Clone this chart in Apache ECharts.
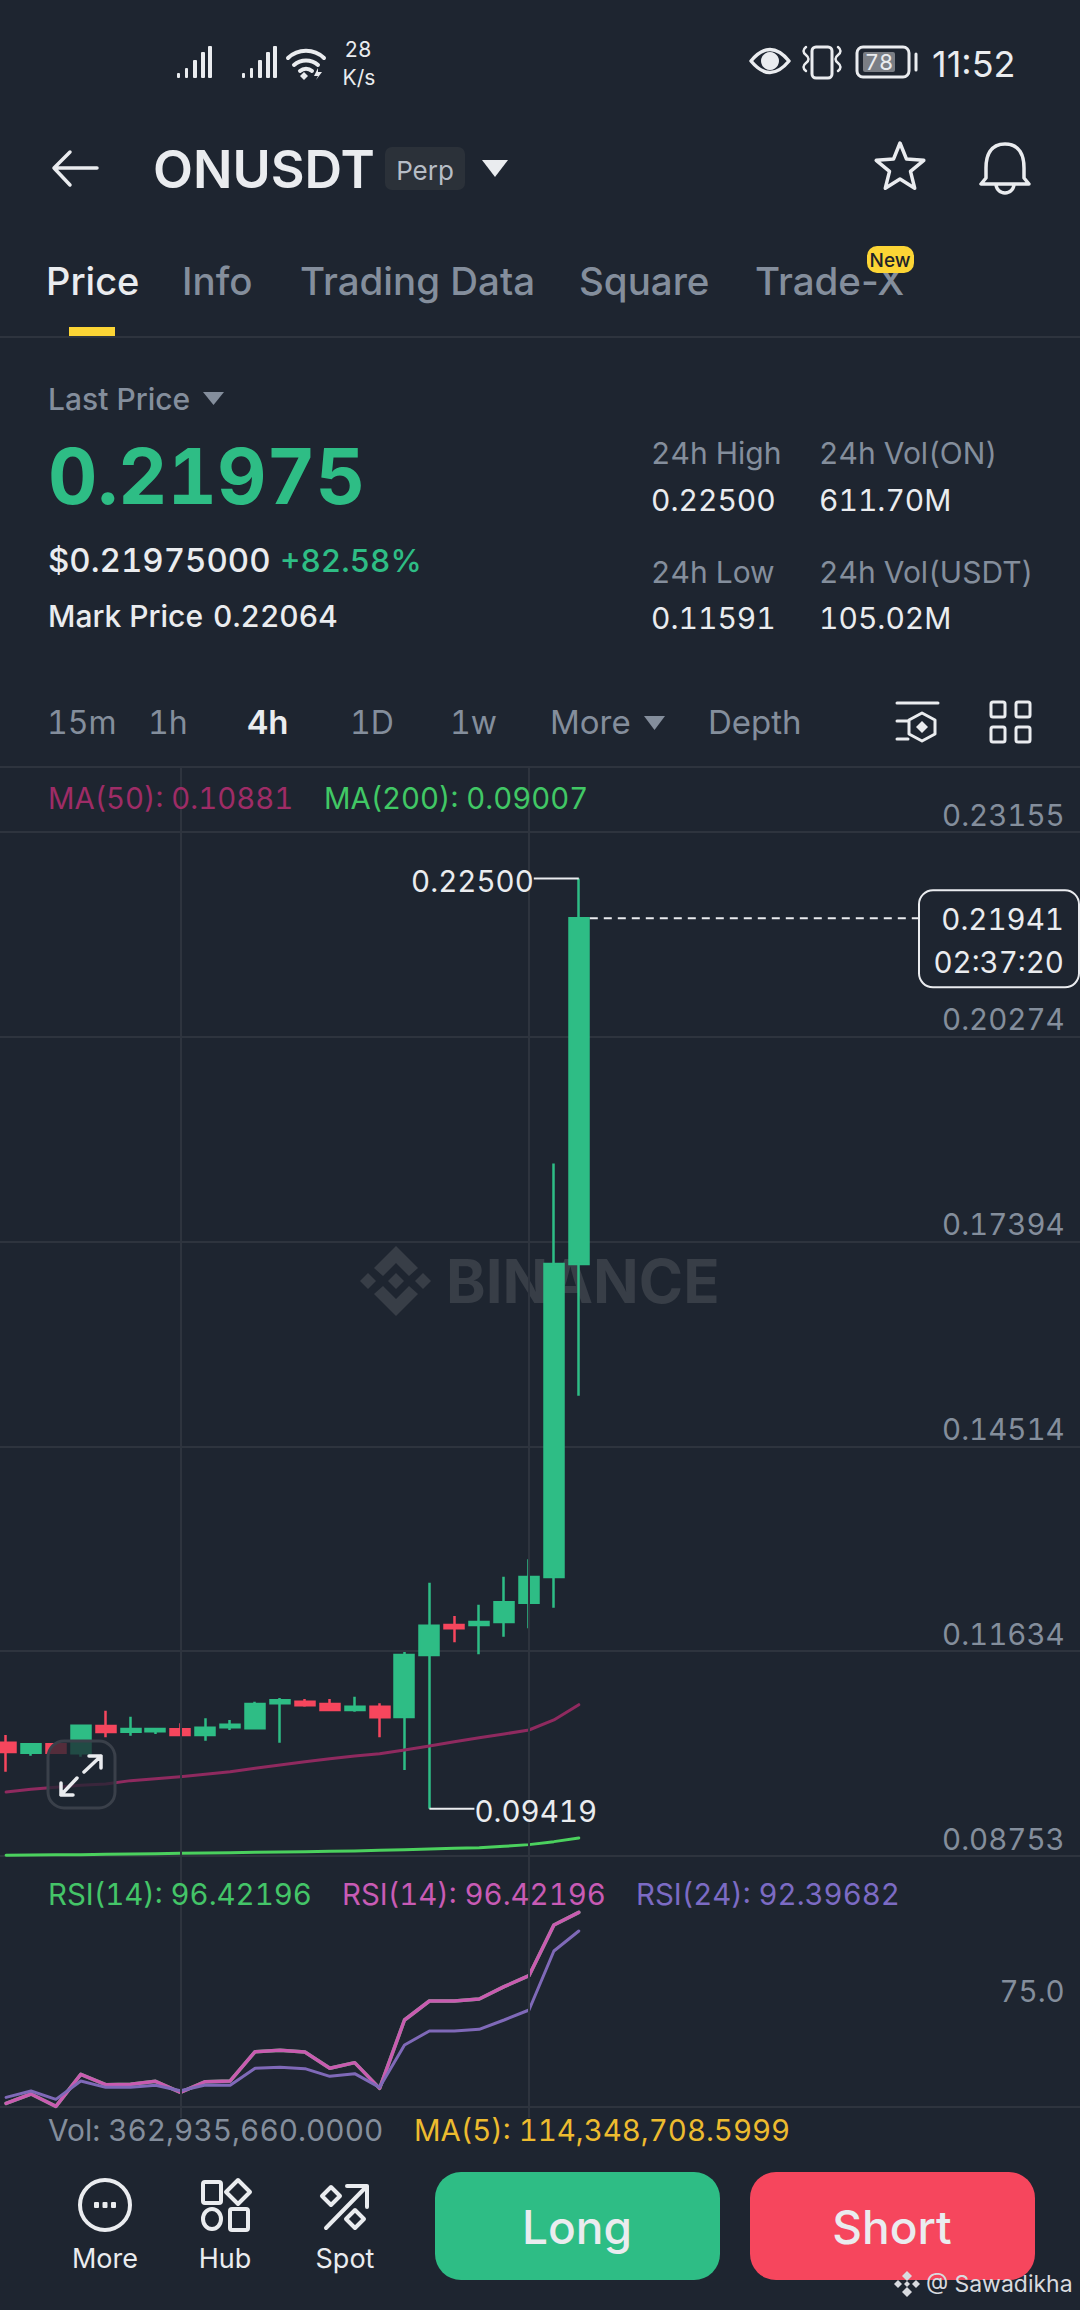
<!DOCTYPE html>
<html><head><meta charset="utf-8">
<style>html,body{margin:0;padding:0;background:#1E2530}#c{width:1080px;height:2310px}
text{font-feature-settings:"tnum" 1 !important;font-variant-numeric:tabular-nums !important}
text[style*="36px"],text[style*="38.5px"],text[style*="60px"],text[style*="38px"]{font-feature-settings:normal !important;font-variant-numeric:normal !important}</style>
<script src="https://cdn.jsdelivr.net/npm/echarts@6/dist/echarts.min.js"></script>
</head><body><div id="c"></div>
<script>
const slots = ['0','1','2','3','4','5','6','7','8','9','10','11','12','13','14','15','16','17','18','19','20','21','22','23','24','25','26','27','28','29','30','31','32','33','34','35','36','37','38','39','40','41','42','43'];
const opens  = [0.10347,0.10206,0.10324,0.10197,0.10582,0.10502,0.10506,0.10535,0.10455,0.10563,0.10549,0.10900,0.10924,0.10891,0.10807,0.10853,0.10708,0.11580,0.12002,0.12002,0.12044,0.12316,0.12677,0.17079];
const closes = [0.10216,0.10324,0.10206,0.10586,0.10497,0.10539,0.10539,0.10455,0.10558,0.10600,0.10891,0.10942,0.10872,0.10807,0.10853,0.10703,0.11580,0.11993,0.11955,0.12044,0.12321,0.12677,0.17079,0.21941];
const lows   = [0.09939,0.10164,0.10197,0.10150,0.10422,0.10446,0.10469,0.10441,0.10375,0.10525,0.10535,0.10347,0.10853,0.10788,0.10783,0.10422,0.09963,0.09419,0.11758,0.11589,0.11838,0.11955,0.12245,0.15227];
const highs  = [0.10455,0.10324,0.10324,0.10586,0.10797,0.10713,0.10558,0.10619,0.10689,0.10666,0.10924,0.10975,0.10961,0.10961,0.10994,0.10900,0.11622,0.12597,0.12129,0.12288,0.12682,0.12926,0.18494,0.22500];
const ma50   = [0.09653,0.09691,0.09719,0.09747,0.09766,0.09813,0.09841,0.09869,0.09902,0.09939,0.09986,0.10033,0.10080,0.10122,0.10160,0.10192,0.10244,0.10300,0.10361,0.10417,0.10469,0.10525,0.10666,0.10881];
const ma200  = [0.08763,0.08767,0.08772,0.08772,0.08777,0.08781,0.08786,0.08791,0.08795,0.08800,0.08805,0.08809,0.08814,0.08819,0.08823,0.08833,0.08842,0.08852,0.08861,0.08870,0.08889,0.08913,0.08955,0.09007];
const rsi14  = [55.25,57.26,54.60,61.50,59.27,59.35,59.99,57.62,59.92,60.07,66.39,66.67,66.31,62.80,64.02,58.48,73.21,77.31,77.31,77.74,80.40,82.77,93.69,96.42];
const rsi24  = [56.54,57.91,56.11,60.07,58.70,58.70,59.13,57.98,59.20,59.13,62.80,63.01,62.72,61.07,61.64,58.70,67.82,70.84,70.84,71.20,73.21,75.37,88.08,92.40];
const priceTicks = [0.08753,0.11634,0.14514,0.17394,0.20274,0.23155];
const rsiTicks = [75];
const gridMarks = ['7','21'];
const extremes = [['23',0.22500,-1],['17',0.09419,1]];
const lastPrice = [['23',0.21941]];
const lastCountdown = '02:37:20';

const BG='#1E2530', LINE='#2E343E', GREY='#848E9C', WHITE='#EAECEF', GREEN='#2EBD85', RED='#F6465D';
const FONT='Inter, "Noto Sans", sans-serif';
let pathCount=0;
const pathType=(d)=>{const n='ui'+(pathCount++);echarts.graphic.registerShape(n,echarts.graphic.extendPath(d));return n;};
const T=(text,x,y,size,fill,weight,align)=>({type:'text',z:10,silent:true,style:{text:text,x:x,y:y+2,fill:fill,font:(weight||400)+' '+size+'px '+FONT,textAlign:align||'left',textVerticalAlign:'middle'}});
const S=(d,w,color)=>({type:pathType(d),z:10,silent:true,style:{fill:'none',stroke:color||WHITE,lineWidth:w||3,lineCap:'round',lineJoin:'round'}});
const F=(d,color,z)=>({type:pathType(d),z:z==null?10:z,silent:true,style:{fill:color||WHITE}});
const R=(x,y,w,h,r,fill,stroke,lw,z)=>({type:'rect',z:z==null?5:z,silent:true,shape:{x:x,y:y,width:w,height:h,r:r},style:{fill:fill||'none',stroke:stroke||'none',lineWidth:lw||0}});
const bars=(ox)=>[[0,73,3],[8,68,3],[16,60,4],[24,52,4],[31,46,4]].map(b=>R(ox+b[0],b[1],b[2],78-b[1],1,WHITE,null,0,10));
const diamond=(cx,cy,r)=>`M${cx} ${cy-r}L${cx+r} ${cy}L${cx} ${cy+r}L${cx-r} ${cy}Z`;

const graphics=[
 // status bar
 ...bars(177),...bars(242),
 S('M288 58A26 26 0 0 1 324 58M294 65A18 18 0 0 1 318 65M300 71A9 9 0 0 1 312 71',4),
 F(diamond(304,76,4)),F('M318 68L314 76H318L316 80L322 72H318Z'),
 T('28',358,47,21,WHITE,400,'center'),T('K/s',359,75,21,WHITE,400,'center'),
 S('M751 61Q770 38 789 61Q770 84 751 61Z',3.5),F('M770 52a9 9 0 1 0 .01 0Z'),
 R(812,47,20,31,4,'none',WHITE,3,10),S('M806 47q-5 4 0 8t0 8t0 8M838 47q5 4 0 8t0 8t0 8',2.5),
 R(857,47,52,30,6,'none',WHITE,3,10),R(863,52,32,20,2,'#7A7E85',null,0,10),T('78',879,60,22,WHITE,400,'center'),S('M916 54V70',3),
 T('11:52',932,62,36,WHITE,400),
 // header
 S('M97 168H54M70 152L54 168L70 185',3.5),
 T('ONUSDT',153,167,52,WHITE,600),
 R(385,147,80,43,7,'#2B3139'),T('Perp',425,168,26,'#B7BDC6',400,'center'),
 F('M482 160H508L495 177Z'),
 S('M900 143L906.5 159.1L923.8 160.3L910.5 171.4L914.7 188.2L900 179L885.3 188.2L889.5 171.4L876.2 160.3L893.5 159.1Z',3.5),
 S('M1005 144C990 144 986 156 986 168V178L981 184H1029L1024 178V168C1024 156 1020 144 1005 144ZM996 184A9 9 0 0 0 1014 184',3.5),
 // tabs
 T('Price',46,279,38,WHITE,500),T('Info',182,279,38.5,GREY,500),T('Trading Data',300,279,38.5,GREY,500),T('Square',579,279,38.5,GREY,500),T('Trade-X',755,279,38.5,GREY,500),
 R(867,246,47,27,10,'#FCD535',null,0,11),{...T('New',890,258,19,'#1E2329',500,'center'),z:12},
 R(69,327,46,9,0,'#FCD535'),R(0,336,1080,2,0,LINE),
 // price block
 T('Last Price',48,397,30,GREY,500),F('M203 392H224L213.5 405Z',GREY),
 T('0.21975',48,474,76.5,GREEN,700),
 T('$0.21975000',48,558,33,WHITE,500),T('+82.58%',280,558,31.5,GREEN,500),
 T('Mark Price',48,614,30,WHITE,500),T('0.22064',213,614,30,WHITE,500),
 T('24h High',651,451,30,GREY),T('24h Vol(ON)',819,451,30,GREY),
 T('0.22500',651,498,30,WHITE),T('611.70M',819,498,30,WHITE),
 T('24h Low',651,570,30,GREY),T('24h Vol(USDT)',819,570,30,GREY),
 T('0.11591',651,616,30,WHITE),T('105.02M',819,616,30,WHITE),
 // intervals
 T('15m',47,720,32,GREY),T('1h',148,720,32,GREY),T('4h',247,720,33,WHITE,600),T('1D',350,720,32,GREY),T('1w',450,720,32,GREY),T('More',550,720,33,GREY),F('M644 716H665L654.5 730Z',GREY),T('Depth',708,720,33,GREY),
 S('M897 703H938M897 721H908M897 739H908M922 713L935 720V734L922 741L909 734V720Z',3),F(diamond(922,727,6)),
 R(991,702,14,15,2,'none',WHITE,3,10),R(1016,702,14,15,2,'none',WHITE,3,10),R(991,727,14,15,2,'none',WHITE,3,10),R(1016,727,14,15,2,'none',WHITE,3,10),
 R(0,766,1080,2,0,LINE),
 // legends
 T('MA(50): 0.10881',48,796,29.3,'#9E2C66'),T('MA(200): 0.09007',324,796,29.3,'#41C865'),
 T('RSI(14): 96.42196',48,1892,29.4,'#44C568'),T('RSI(14): 96.42196',342,1892,29.4,'#C85BB5'),T('RSI(24): 92.39682',636,1892,29.4,'#7C6BC4'),
 T('Vol: 362,935,660.0000',48,2128,29.8,GREY),T('MA(5): 114,348,708.5999',414,2128,29.4,'#EDBB2F'),
 // watermark
 F('M396 1246L418 1268L409 1276L396 1263L383 1276L374 1268Z','#383E47',0),F('M396 1316L418 1294L409 1286L396 1299L383 1286L374 1294Z','#383E47',0),
 F(diamond(396,1281,8),'#383E47',0),F(diamond(368,1281,8),'#383E47',0),F(diamond(423,1281,8),'#383E47',0),
 {...T('BINANCE',446,1279,60,'#383E47',700),z:0},
 // expand button
 R(48,1741,67,67,16,'rgba(30,37,48,0.75)','#3A404A',3,50),
 {...S('M84 1772L101 1756M89 1756H101V1768M77 1778L61 1795M61 1783V1795H73',3.5),z:51},
 // bottom bar
 S('M130 2205A25 25 0 1 1 80 2205A25 25 0 1 1 130 2205',4),R(94,2202,5,6,1,WHITE,null,0,10),R(102.5,2202,5,6,1,WHITE,null,0,10),R(111,2202,5,6,1,WHITE,null,0,10),
 T('More',105,2256,27,WHITE,400,'center'),
 R(203,2182,18,21,2,'none',WHITE,4,10),S(diamond(238,2192,12),4),S('M221 2219A9 10 0 1 1 203 2219A9 10 0 1 1 221 2219',4),R(230,2209,18,21,2,'none',WHITE,4,10),
 T('Hub',225,2256,27,WHITE,400,'center'),
 S(diamond(331,2196,9),4),S(diamond(355,2219,9),4),S('M326 2228L367 2186M347 2186H367V2207',4),
 T('Spot',345,2256,27,WHITE,400,'center'),
 R(435,2172,285,108,26,GREEN),T('Long',577,2225,46,WHITE,500,'center'),
 R(750,2172,285,108,26,RED),T('Short',892,2225,46,WHITE,500,'center'),
 F(diamond(907,2276,5),'#D8DADF',20),F(diamond(907,2292,5),'#D8DADF',20),F(diamond(898,2284,4),'#D8DADF',20),F(diamond(916,2284,4),'#D8DADF',20),F(diamond(907,2284,3),'#D8DADF',20),
 {...T('@ Sawadikha',926,2282,23,'#D8DADF'),z:20}
];

const candleData = opens.map((o,i)=>[o,closes[i],lows[i],highs[i]]);
const baseX = {type:'category',data:slots,boundaryGap:true,axisLabel:{show:false},axisTick:{show:false},axisLine:{show:false},splitLine:{show:false}};
const line=(name,data,color,w,x,y)=>({name:name,type:'line',data:data,xAxisIndex:x,yAxisIndex:y,symbol:'none',smooth:false,animation:false,silent:true,lineStyle:{color:color,width:w,cap:'round',join:'round'},z:3});

const chart=echarts.init(document.getElementById('c'),null,{width:1080,height:2310,renderer:'svg'});
chart.setOption({
 animation:false,backgroundColor:BG,
 graphic:{elements:graphics},
 grid:[
  {left:-6.35,top:832,width:1095.6,height:1024,outerBoundsMode:'none'},
  {left:-6.35,top:1856,width:1095.6,height:251,outerBoundsMode:'none'},
  {left:-6.35,top:767,width:1095.6,height:1351,outerBoundsMode:'none'}
 ],
 xAxis:[{...baseX,gridIndex:0},{...baseX,gridIndex:1,axisLine:{show:true,lineStyle:{color:LINE,width:2}}},{...baseX,gridIndex:2}],
 yAxis:[
  {type:'value',gridIndex:0,position:'right',min:0.08753,max:0.23155,
   axisLine:{show:false},
   axisTick:{show:false,customValues:priceTicks},
   splitLine:{show:true,lineStyle:{color:LINE,width:2}},
   axisLabel:{show:true,inside:true,customValues:priceTicks,margin:24.5,color:GREY,fontSize:29.5,fontFamily:FONT,verticalAlign:'bottom',lineHeight:35,formatter:v=>v.toFixed(5)}},
  {type:'value',gridIndex:1,position:'right',min:54.46,max:108.56,
   axisLine:{show:false},axisTick:{show:false},splitLine:{show:false},
   axisLabel:{show:true,inside:true,customValues:rsiTicks,margin:24.5,color:GREY,fontSize:29.5,fontFamily:FONT,verticalAlign:'bottom',lineHeight:42,formatter:v=>v.toFixed(1)}},
  {type:'value',gridIndex:2,min:0,max:1,show:false}
 ],
 series:[
  {name:'gridlines',type:'line',xAxisIndex:2,yAxisIndex:2,data:[],z:1,silent:true,symbol:'none',
   markLine:{silent:true,symbol:'none',animation:false,label:{show:false},lineStyle:{color:LINE,width:2,type:'solid'},data:gridMarks.map(m=>({xAxis:m}))}},
  {name:'ONUSDT',type:'candlestick',xAxisIndex:0,yAxisIndex:0,data:candleData,barWidth:19.5,z:2,silent:true,
   itemStyle:{color:GREEN,color0:RED,borderColor:GREEN,borderColor0:RED,borderWidth:2.5}},
  line('MA(50)',ma50,'#8F2A5F',3,0,0),
  line('MA(200)',ma200,'#4BD15E',3,0,0),
  line('RSI(14)',rsi14,'#44C568',3.5,1,1),
  line('RSI(14) ',rsi14,'#C95BB0',3.5,1,1),
  line('RSI(24)',rsi24,'#7F69B8',3,1,1),
  {name:'extremes',type:'custom',xAxisIndex:0,yAxisIndex:0,data:extremes,z:6,silent:true,clip:false,
   encode:{x:0,y:1},
   renderItem:(p,api)=>{
    const c=api.coord([api.value(0),api.value(1)]), dir=api.value(2), end=c[0]+dir*45;
    return {type:'group',children:[
     {type:'polyline',shape:{points:[c,[end,c[1]]]},style:{stroke:WHITE,lineWidth:2,fill:'none'}},
     {type:'text',style:{text:api.value(1).toFixed(5),x:end,y:c[1]+2,fill:WHITE,font:'400 29.5px '+FONT,textAlign:dir<0?'right':'left',textVerticalAlign:'middle'}}
    ]};
   }},
  {name:'last',type:'custom',xAxisIndex:0,yAxisIndex:0,data:lastPrice,z:6,silent:true,clip:false,
   encode:{x:0,y:1},
   renderItem:(p,api)=>{
    const c=api.coord([api.value(0),api.value(1)]);
    return {type:'group',children:[
     {type:'polyline',shape:{points:[[c[0]+11,c[1]],[919,c[1]]]},style:{stroke:WHITE,lineWidth:2,lineDash:[8,6],fill:'none'}},
     {type:'rect',shape:{x:919,y:c[1]-28,width:160,height:97,r:14},style:{fill:BG,stroke:WHITE,lineWidth:2}},
     {type:'text',style:{text:api.value(1).toFixed(5),x:1064,y:c[1]+1,fill:WHITE,font:'400 29.5px '+FONT,textAlign:'right',textVerticalAlign:'middle'}},
     {type:'text',style:{text:lastCountdown,x:1064,y:c[1]+44,fill:WHITE,font:'400 29.5px '+FONT,textAlign:'right',textVerticalAlign:'middle'}}
    ]};
   }}
 ]
});
</script></body></html>
